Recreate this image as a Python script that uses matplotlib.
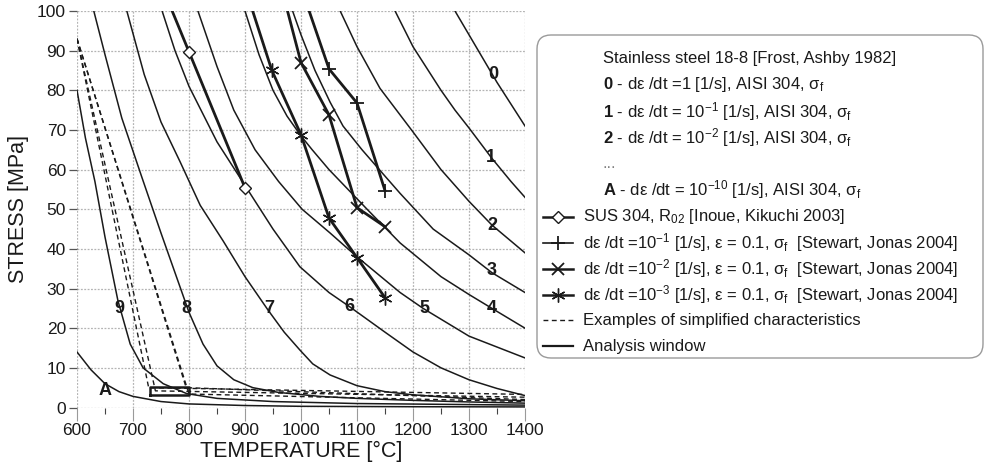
import numpy as np
import matplotlib.pyplot as plt
from matplotlib.patches import FancyBboxPatch
from matplotlib.ticker import MultipleLocator

plt.rcParams['font.family'] = ['Liberation Sans', 'DejaVu Sans']
plt.rcParams['mathtext.fontset'] = 'custom'
plt.rcParams['mathtext.rm'] = 'Liberation Sans'
plt.rcParams['mathtext.it'] = 'Liberation Sans:italic'
plt.rcParams['mathtext.bf'] = 'Liberation Sans:bold'

INK = '#1a1a1a'

# Frost-Ashby curves (temperature degC, stress MPa)
curve_T = {
    '0': [1275, 1300, 1325, 1350, 1375, 1400],
    '1': [1168, 1200, 1225, 1250, 1275, 1300, 1340, 1375, 1400],
    '2': [1070, 1100, 1141, 1200, 1250, 1300, 1341, 1400],
    '3': [985, 1000, 1025, 1052, 1075, 1109, 1146, 1177, 1236, 1300, 1341, 1400],
    '4': [900, 925, 950, 975, 1000, 1020, 1050, 1118, 1177, 1250, 1300, 1341, 1400],
    '5': [816, 850, 880, 918, 960, 1002, 1052, 1100, 1177, 1218, 1300, 1400],
    '6': [752, 775, 800, 850, 900, 950, 998, 1050, 1087, 1150, 1200, 1250, 1300, 1350, 1400],
    '7': [689, 720, 750, 784, 820, 861, 900, 941, 970, 998, 1021, 1052, 1100, 1150, 1200, 1300, 1400],
    '8': [630, 650, 680, 716, 750, 785, 800, 825, 850, 880, 914, 960, 1034, 1100, 1200, 1300, 1400],
    '9': [600, 615, 632, 650, 673, 695, 718, 754, 796, 850, 950, 1100, 1250, 1400],
    'A': [600, 625, 650, 675, 700, 750, 800, 900, 1000, 1200, 1400],
}
curve_s = {
    '0': [100, 94, 88, 82, 76.5, 71],
    '1': [100, 91, 85.5, 80, 75, 70.5, 63, 57, 53],
    '2': [100, 91, 80.5, 69.5, 60, 52, 46, 39],
    '3': [100, 94, 85, 77, 71, 65, 59, 54, 45, 38.5, 34, 29],
    '4': [100, 89, 80, 73.5, 68.5, 65, 60, 50, 41.5, 33, 28.5, 25, 20],
    '5': [100, 86, 75, 65, 57, 50, 44, 38, 29, 25, 18, 12.5],
    '6': [100, 90, 81, 67, 56, 45, 35.5, 29, 25.4, 19, 14, 10, 7, 4.8, 3],
    '7': [100, 84, 72, 62, 51, 42, 33, 24.6, 19, 14.5, 11, 8.2, 5.5, 4, 3.2, 2.2, 1.7],
    '8': [100, 89, 73, 58, 44, 30, 24, 16, 10.5, 7, 5, 3.8, 2.8, 2.3, 1.8, 1.4, 1.1],
    '9': [80, 68, 57, 43, 27, 16, 10, 6, 3.5, 2.3, 1.5, 1.0, 0.8, 0.6],
    'A': [14, 9.5, 6, 4, 2.8, 1.5, 0.9, 0.5, 0.3, 0.2, 0.15],
}
# where each curve number is printed
label_T = {'0': 1343, '1': 1339, '2': 1341, '3': 1341, '4': 1341, '5': 1220,
           '6': 1087, '7': 943, '8': 795, '9': 675, 'A': 650}
label_s = {'0': 84, '1': 63, '2': 46, '3': 34.5, '4': 25, '5': 25,
           '6': 25.5, '7': 25, '8': 25, '9': 25, 'A': 4.4}

# measured series
sus_T = [700, 800, 900]
sus_s = [124, 89.7, 55.4]
sj1_T = [1000, 1050, 1100, 1150]
sj1_s = [106, 85.4, 76.8, 54.7]
sj2_T = [950, 1000, 1050, 1100, 1150]
sj2_s = [114, 87, 73.8, 50.4, 45.6]
sj3_T = [900, 948, 1000, 1050, 1100, 1150]
sj3_s = [106, 85, 68.8, 47.8, 37.8, 27.7]

# simplified characteristics (dashed)
simp_T = [[600, 728, 1400], [600, 740, 1400], [600, 795, 1400], [600, 800, 1400]]
simp_s = [[93, 5.0, 3.3], [93, 4.2, 2.6], [93, 5.0, 2.0], [93, 3.4, 1.5]]

# analysis window
win_T = [730, 800, 800, 730, 730]
win_s = [3.2, 3.2, 5.1, 5.1, 3.2]

fig = plt.figure(figsize=(9.86, 4.70), dpi=100)
ax = fig.add_axes([77/986, 1-407.5/470, 448/986, 396.5/470])

for k in curve_T:
    ax.plot(curve_T[k], curve_s[k], color=INK, lw=1.1, zorder=3)
    ax.text(label_T[k], label_s[k], k, fontsize=13, fontweight='bold',
            ha='center', va='center', color=INK, zorder=5)

for T, s in zip(simp_T, simp_s):
    ax.plot(T, s, color=INK, lw=1.0, ls=(0, (3.5, 2.5)), zorder=3)

ax.plot(win_T, win_s, color=INK, lw=1.8, zorder=4)

ax.plot(sus_T, sus_s, color=INK, lw=2.0, marker='D', ms=6, mfc='white',
        mec=INK, mew=1.0, zorder=4)
ax.plot(sj1_T, sj1_s, color=INK, lw=2.0, marker='+', ms=10, mew=1.3, zorder=4)
ax.plot(sj2_T, sj2_s, color=INK, lw=2.0, marker='x', ms=9, mew=1.3, zorder=4)
ax.plot(sj3_T, sj3_s, color=INK, lw=2.0, marker=(6, 2, 0), ms=10, mew=1.0, zorder=4)

ax.set_xlim(600, 1400)
ax.set_ylim(0, 100)
ax.xaxis.set_major_locator(MultipleLocator(100))
ax.xaxis.set_minor_locator(MultipleLocator(50))
ax.yaxis.set_major_locator(MultipleLocator(10))
ax.grid(True, which='major', color='#b4b4b4', lw=0.9, ls=(0, (1.5, 1.2)))
for sp in ax.spines.values():
    sp.set_visible(False)
ax.tick_params(axis='x', which='major', length=9, width=0.8, color='#9a9a9a',
               pad=2, labelsize=12.5, labelcolor=INK)
ax.tick_params(axis='x', which='minor', length=4, width=0.8, color='#444444')
ax.tick_params(axis='y', which='major', length=6, width=0.9, color='#555555',
               pad=2, labelsize=12.5, labelcolor=INK)
ax.set_xlabel('TEMPERATURE [°C]', fontsize=15.5, color=INK, labelpad=2)
ax.set_ylabel('STRESS [MPa]', fontsize=15.5, color=INK, labelpad=6)

# legend panel, drawn in pixel coordinates of the figure
lax = fig.add_axes([0, 0, 1, 1], facecolor='none')
lax.set_xlim(0, 986)
lax.set_ylim(470, 0)
lax.axis('off')
lax.add_patch(FancyBboxPatch((537, 35), 446, 323,
                             boxstyle='round,pad=0,rounding_size=14',
                             fc='white', ec='#9a9a9a', lw=1.0))

header = [
    'Stainless steel 18-8 [Frost, Ashby 1982]',
    r'$\mathbf{0}$ - dε /dt =1 [1/s], AISI 304, σ$_\mathrm{f}$',
    r'$\mathbf{1}$ - dε /dt = 10$^{-1}$ [1/s], AISI 304, σ$_\mathrm{f}$',
    r'$\mathbf{2}$ - dε /dt = 10$^{-2}$ [1/s], AISI 304, σ$_\mathrm{f}$',
    '...',
    r'$\mathbf{A}$ - dε /dt = 10$^{-10}$ [1/s], AISI 304, σ$_\mathrm{f}$',
]
header_y = [58, 85, 112, 138, 163, 190]
for txt, y in zip(header, header_y):
    lax.text(603, y, txt, fontsize=12, color=INK, va='center', ha='left',
             alpha=0.55 if txt == '...' else 1)

entries = [
    (r'SUS 304, R$_{02}$ [Inoue, Kikuchi 2003]',
     dict(marker='D', ms=6, mfc='white', lw=1.8)),
    (r'dε /dt =10$^{-1}$ [1/s], ε = 0.1, σ$_\mathrm{f}$  [Stewart, Jonas 2004]',
     dict(marker='+', ms=10, mew=1.3, lw=1.2)),
    (r'dε /dt =10$^{-2}$ [1/s], ε = 0.1, σ$_\mathrm{f}$  [Stewart, Jonas 2004]',
     dict(marker='x', ms=9, mew=1.3, lw=1.8)),
    (r'dε /dt =10$^{-3}$ [1/s], ε = 0.1, σ$_\mathrm{f}$  [Stewart, Jonas 2004]',
     dict(marker=(6, 2, 0), ms=10, lw=1.8)),
    ('Examples of simplified characteristics', dict(ls=(0, (3.5, 2.5)), lw=1.0)),
    ('Analysis window', dict(lw=1.6)),
]
entry_y = [217, 243, 269, 295, 320, 346]
for (txt, st), y in zip(entries, entry_y):
    # marker only in the middle of the sample line
    lax.plot([543, 558, 573], [y, y, y], color=INK, markevery=[1], **st)
    lax.text(583, y, txt, fontsize=12, color=INK, va='center', ha='left')

fig.savefig('out.png', dpi=100)
